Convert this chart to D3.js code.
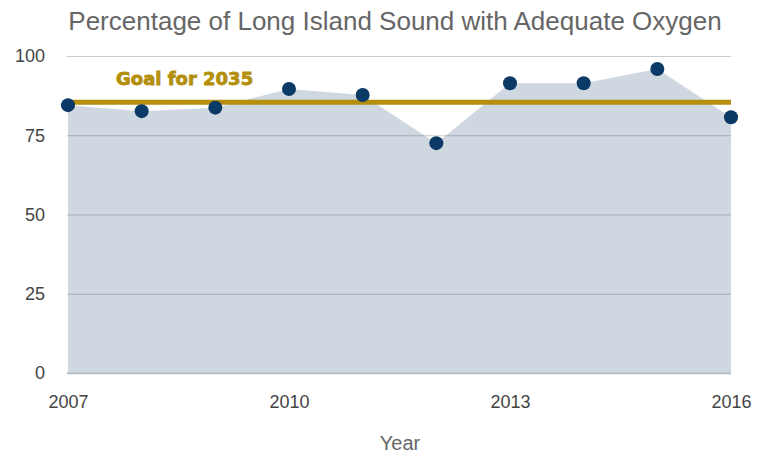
<!DOCTYPE html>
<html>
<head>
<meta charset="utf-8">
<script src="https://cdn.jsdelivr.net/npm/d3@7"></script>
<style>
  body { margin: 0; background: #fff; }
  text { font-family: "Liberation Sans", Arial, sans-serif; }
</style>
</head>
<body>
<svg id="chart" width="758" height="456"></svg>
<script>
const years = [2007, 2008, 2009, 2010, 2011, 2012, 2013, 2014, 2015, 2016];
const oxygenPct = [84.5, 82.6, 83.7, 89.6, 87.7, 72.5, 91.4, 91.4, 95.9, 80.7];
const goalValue = 85.4;
const goalLabel = 'Goal for 2035';
const yTicks = [0, 25, 50, 75, 100];
const xTicks = [2007, 2010, 2013, 2016];

const margin = { top: 56, right: 27, bottom: 83, left: 68 };
const w = 758;
const h = 456;
const width = w - margin.left - margin.right;
const height = h - margin.top - margin.bottom;

const svg = d3.select('#chart');

svg.append('text')
    .attr('x', 395)
    .attr('y', 30)
    .attr('text-anchor', 'middle')
    .attr('font-size', 26)
    .attr('fill', '#666')
    .text('Percentage of Long Island Sound with Adequate Oxygen');

const g = svg.append('g')
    .attr('transform', `translate(${margin.left},${margin.top})`);

const x = d3.scaleLinear().domain([2007, 2016]).range([0, width]);
const y = d3.scaleLinear().domain([0, 100]).range([height, 0]);

const data = years.map((yr, i) => ({ year: yr, value: oxygenPct[i] }));

// area under the series
const area = d3.area()
    .x(d => x(d.year))
    .y0(y(0))
    .y1(d => y(d.value));

g.append('path')
    .datum(data)
    .attr('d', area)
    .attr('fill', '#cfd8e1');

// gridlines drawn over the area
const yAxis = d3.axisLeft(y)
    .tickValues(yTicks)
    .tickSize(-width - 1)
    .tickPadding(22)
    .tickFormat(d3.format('d'));

const gy = g.append('g')
    .attr('transform', 'translate(-1,0)')
    .call(yAxis);
gy.select('.domain').remove();
gy.selectAll('.tick line')
    .attr('stroke', d => d === 0 ? 'rgba(40,55,70,0.35)' : 'rgba(0,0,0,0.2)')
    .attr('stroke-width', d => d === 0 ? 1.5 : 1.2);
gy.selectAll('.tick text')
    .attr('font-size', 18)
    .attr('fill', '#444');

const xAxis = d3.axisBottom(x)
    .tickValues(xTicks)
    .tickSize(0)
    .tickPadding(22)
    .tickFormat(d3.format('d'));

const gx = g.append('g')
    .attr('transform', `translate(0,${height})`)
    .call(xAxis);
gx.select('.domain').remove();
gx.selectAll('.tick text')
    .attr('font-size', 18)
    .attr('fill', '#444');

svg.append('text')
    .attr('x', 400)
    .attr('y', 450)
    .attr('text-anchor', 'middle')
    .attr('font-size', 20)
    .attr('fill', '#666')
    .text('Year');

// goal line
g.append('line')
    .attr('x1', x(2007))
    .attr('x2', x(2016))
    .attr('y1', y(goalValue))
    .attr('y2', y(goalValue))
    .attr('stroke', '#b58e0b')
    .attr('stroke-width', 5);

g.append('text')
    .attr('x', 116 - margin.left)
    .attr('y', y(goalValue) - 17)
    .style('font-family', '"DejaVu Sans", sans-serif')
    .style('font-weight', 'bold')
    .style('font-size', '18px')
    .attr('fill', '#b38f0b')
    .attr('stroke', '#b38f0b')
    .attr('stroke-width', 0.8)
    .text(goalLabel);

// points
g.selectAll('.dot')
    .data(data)
    .enter().append('circle')
    .attr('class', 'dot')
    .attr('cx', d => x(d.year))
    .attr('cy', d => y(d.value))
    .attr('r', 7)
    .attr('fill', '#0c3a66');
</script>
</body>
</html>
